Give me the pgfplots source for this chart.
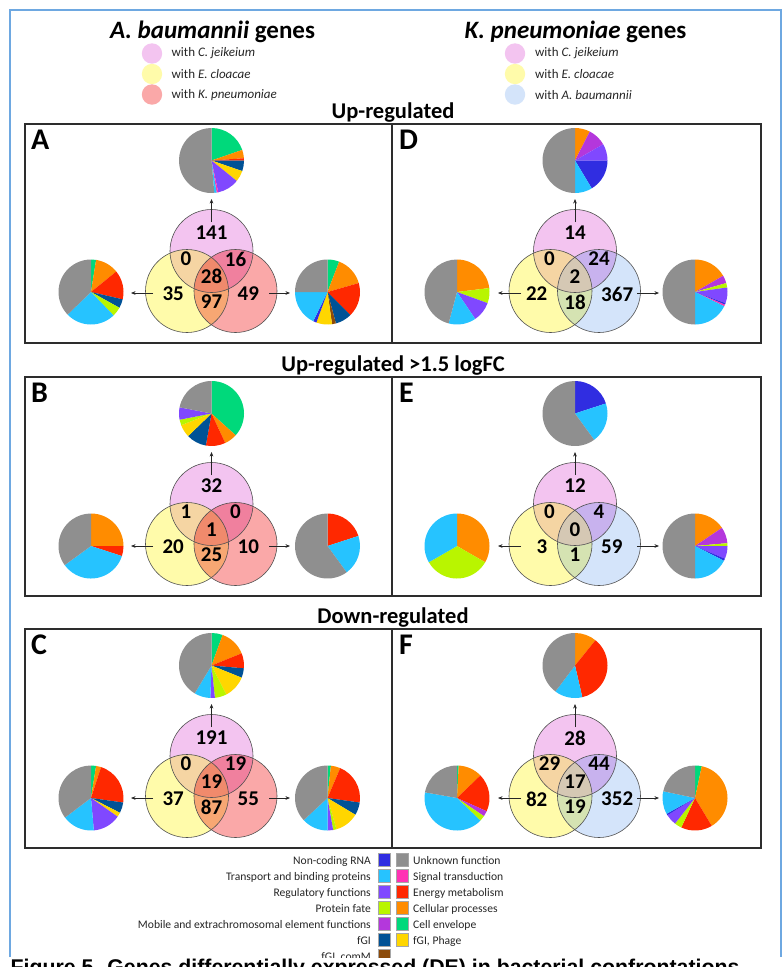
\documentclass[border=0pt]{standalone}
\usepackage{pgfplots}
\pgfplotsset{compat=1.18}
\usetikzlibrary{arrows.meta}
\usepackage{fontspec}
\setmainfont{Carlito}
\newfontfamily\capfont{Liberation Sans}

\definecolor{cgray}{RGB}{143,143,143}
\definecolor{cgreen}{RGB}{0,217,123}
\definecolor{corange}{RGB}{255,140,0}
\definecolor{cred}{RGB}{255,40,0}
\definecolor{cfgi}{RGB}{0,82,150}
\definecolor{cyellow}{RGB}{255,214,0}
\definecolor{cpurple}{RGB}{128,72,255}
\definecolor{cpink}{RGB}{255,50,180}
\definecolor{cltblue}{RGB}{38,195,255}
\definecolor{cncrna}{RGB}{48,45,225}
\definecolor{clime}{RGB}{185,245,0}
\definecolor{cbrown}{RGB}{140,75,10}
\definecolor{cmobile}{RGB}{180,55,220}

\definecolor{vpink}{RGB}{243,196,240}
\definecolor{vyellow}{RGB}{255,251,170}
\definecolor{vsalmon}{RGB}{250,168,168}
\definecolor{vblue}{RGB}{212,228,250}
\definecolor{vPY}{RGB}{245,213,163}
\definecolor{vPS}{RGB}{240,128,158}
\definecolor{vYS}{RGB}{247,167,115}
\definecolor{vPYS}{RGB}{240,138,108}
\definecolor{vPB}{RGB}{200,178,238}
\definecolor{vYB}{RGB}{213,227,178}
\definecolor{vPYB}{RGB}{213,200,180}
\definecolor{vline}{RGB}{80,80,80}
\definecolor{frameblue}{RGB}{110,168,225}
\definecolor{boxline}{RGB}{45,45,45}

\newcommand\fs[1]{\fontsize{#1}{#1}\selectfont}

% ---------- pie: centre x, centre y, list colour:degrees (clockwise from 12 o'clock)
\newcommand\pie[3]{%
  \def\pieacc{0}%
  \pgfplotsforeachungrouped \pieitem in {#3}{\expandafter\pieslice\pieitem\relax{#1}{#2}}%
}
\def\pieslice#1:#2\relax#3#4{%
  \pgfmathsetmacro\pa{90-\pieacc}%
  \pgfmathsetmacro\pb{90-\pieacc-#2}%
  \edef\doslice{\noexpand\fill[#1] (axis cs:#3,#4) -- ++(\pa:32.5pt) arc[start angle=\pa, end angle=\pb, radius=32.5pt] -- cycle;}%
  \doslice
  \pgfmathsetmacro\pieacc{\pieacc+#2}%
}

% ---------- venn: cx, cy (top circle), third colour, P&third, Y&third, triple
\newcommand\venn[6]{%
  \fill[vpink] (axis cs:#1,#2) circle[radius=41.5pt];
  \fill[vyellow] (axis cs:#1-24.5,#2+40) circle[radius=41.5pt];
  \fill[#3] (axis cs:#1+24,#2+40) circle[radius=41.5pt];
  \begin{scope}
    \clip (axis cs:#1-24.5,#2+40) circle[radius=41.5pt];
    \fill[#5] (axis cs:#1+24,#2+40) circle[radius=41.5pt];
  \end{scope}
  \begin{scope}
    \clip (axis cs:#1,#2) circle[radius=41.5pt];
    \fill[vPY] (axis cs:#1-24.5,#2+40) circle[radius=41.5pt];
    \fill[#4] (axis cs:#1+24,#2+40) circle[radius=41.5pt];
    \clip (axis cs:#1-24.5,#2+40) circle[radius=41.5pt];
    \fill[#6] (axis cs:#1+24,#2+40) circle[radius=41.5pt];
  \end{scope}
  \draw[vline,line width=0.6pt] (axis cs:#1,#2) circle[radius=41.5pt];
  \draw[vline,line width=0.6pt] (axis cs:#1-24.5,#2+40) circle[radius=41.5pt];
  \draw[vline,line width=0.6pt] (axis cs:#1+24,#2+40) circle[radius=41.5pt];
}
\newcommand\vnums[9]{%
  \node[num] at (axis cs:#1,#2-18) {#3};
  \node[num] at (axis cs:#1-25.5,#2+8) {#4};
  \node[num] at (axis cs:#1+24,#2+8) {#5};
  \node[num] at (axis cs:#1,#2+25.5) {#6};
  \node[num,anchor=east] at (axis cs:#1-27.5,#2+43) {#7};
  \node[num] at (axis cs:#1,#2+51) {#8};
  \node[num,anchor=west] at (axis cs:#1+26,#2+43) {#9};
}
\newcommand\varrows[6]{%
  \draw[arr] (axis cs:#1,#2-29) -- (axis cs:#1,#2-52);
  \draw[arr] (axis cs:#1#3,#2+42) -- (axis cs:#1#4,#2+42);
  \draw[arr] (axis cs:#1#5,#2+42) -- (axis cs:#1#6,#2+42);
}
\newcommand\legrow[5]{% y, left text, left colour, right colour, right text
  \node[legt,anchor=base east] at (axis cs:371,#1+4) {#2};
  \filldraw[fill=#3,draw=black!35,line width=0.4pt] (axis cs:378,#1-6.5) rectangle (axis cs:390,#1+6.5);
  \ifx\relax#4\relax\else
  \filldraw[fill=#4,draw=black!35,line width=0.4pt] (axis cs:396,#1-6.5) rectangle (axis cs:408,#1+6.5);
  \node[legt,anchor=base west] at (axis cs:413,#1+4) {#5};
  \fi
}

\begin{document}
\begin{tikzpicture}[
  num/.style={font=\fs{21}\bfseries,inner sep=0pt,text=black},
  arr/.style={-{Stealth[length=4.5pt,width=3.6pt]},line width=0.6pt,black!85},
  legt/.style={font=\fs{11.6},inner sep=0pt,text=black!85},
  sp/.style={font=\fs{13},inner sep=0pt,anchor=west,text=black!85}]
\begin{axis}[x=1pt,y=1pt,y dir=reverse,xmin=0,xmax=784,ymin=0,ymax=967,
  hide axis,clip=false,scale only axis]
\fill[white] (axis cs:0,0) rectangle (axis cs:784,967);
% outer frame
\draw[frameblue,line width=1.4pt] (axis cs:10,957) -- (axis cs:10,10) -- (axis cs:781,10) -- (axis cs:781,957);

% species titles
\node[font=\fs{25}\bfseries,anchor=base,inner sep=0pt] at (axis cs:212.5,38.5) {\textit{A. baumannii} genes};
\node[font=\fs{25}\bfseries,anchor=base,inner sep=0pt] at (axis cs:575.5,38.5) {\textit{K. pneumoniae} genes};
\fill[vpink] (axis cs:152,53.5) circle[radius=10.2pt];
\fill[vyellow] (axis cs:152,74) circle[radius=10.2pt];
\fill[vsalmon] (axis cs:152,94.5) circle[radius=10.2pt];
\node[sp] at (axis cs:171.5,53) {with \textit{C. jeikeium}};
\node[sp] at (axis cs:171.5,74) {with \textit{E. cloacae}};
\node[sp] at (axis cs:171.5,95) {with \textit{K. pneumoniae}};
\fill[vpink] (axis cs:515,53.5) circle[radius=10.2pt];
\fill[vyellow] (axis cs:515,74) circle[radius=10.2pt];
\fill[vblue] (axis cs:515,94.5) circle[radius=10.2pt];
\node[sp] at (axis cs:535,53) {with \textit{C. jeikeium}};
\node[sp] at (axis cs:535,74) {with \textit{E. cloacae}};
\node[sp] at (axis cs:535,95) {with \textit{A. baumannii}};

% section headers
\node[font=\fs{22.5}\bfseries,anchor=base,inner sep=0pt] at (axis cs:393,118.5) {Up-regulated};
\node[font=\fs{22.5}\bfseries,anchor=base,inner sep=0pt] at (axis cs:393,371.5) {Up-regulated >1.5 logFC};
\node[font=\fs{22.5}\bfseries,anchor=base,inner sep=0pt] at (axis cs:393,623.5) {Down-regulated};

% panel boxes
\draw[boxline,line width=1.4pt] (axis cs:25,124) rectangle (axis cs:761,343);
\draw[boxline,line width=1.4pt] (axis cs:392,124) -- (axis cs:392,343);
\draw[boxline,line width=1.4pt] (axis cs:25,377) rectangle (axis cs:761,596);
\draw[boxline,line width=1.4pt] (axis cs:392,377) -- (axis cs:392,596);
\draw[boxline,line width=1.4pt] (axis cs:25,629) rectangle (axis cs:761,848);
\draw[boxline,line width=1.4pt] (axis cs:392,629) -- (axis cs:392,848);
\foreach \L/\X/\Y in {A/31/140,B/31/393,C/31/645,D/399/140,E/399/393,F/399/645}{
  \edef\temp{\noexpand\node[font=\noexpand\fs{30}\noexpand\bfseries,anchor=west,inner sep=0pt] at (axis cs:\X,\Y) {\L};}\temp}

% Venn diagrams
\venn{211.5}{251}{vsalmon}{vPS}{vYS}{vPYS}
\venn{211.5}{504}{vsalmon}{vPS}{vYS}{vPYS}
\venn{211.5}{756}{vsalmon}{vPS}{vYS}{vPYS}
\venn{575}{251}{vblue}{vPB}{vYB}{vPYB}
\venn{575}{504}{vblue}{vPB}{vYB}{vPYB}
\venn{575}{756}{vblue}{vPB}{vYB}{vPYB}

\vnums{211.5}{251}{141}{0}{16}{28}{35}{97}{49}
\vnums{211.5}{504}{32}{1}{0}{1}{20}{25}{10}
\vnums{211.5}{756}{191}{0}{19}{19}{37}{87}{55}
\vnums{575}{251}{14}{0}{24}{2}{22}{18}{367}
\vnums{575}{504}{12}{0}{4}{0}{3}{1}{59}
\vnums{575}{756}{28}{29}{44}{17}{82}{19}{352}

\varrows{211.5}{251}{-58.5}{-80.5}{+57.5}{+78.5}
\varrows{211.5}{504}{-58.5}{-80.5}{+57.5}{+78.5}
\varrows{211.5}{756}{-58.5}{-80.5}{+57.5}{+78.5}
\varrows{575}{251}{-54}{-77}{+62}{+84}
\varrows{575}{504}{-54}{-77}{+62}{+84}
\varrows{575}{756}{-54}{-77}{+62}{+84}

% Pies: panel A
\pie{211.5}{160.5}{cgreen:71,corange:15,cred:4,cfgi:19,cyellow:20,cpurple:39,cpink:3,cltblue:4,cgray:185}
\pie{91}{292}{cgreen:9,corange:42,cred:52,cfgi:16,clime:17,cltblue:90,cgray:134}
\pie{327.5}{292}{cgreen:21,corange:53,cred:61,cfgi:30,cbrown:7,cyellow:28,cncrna:6,cltblue:64,cgray:90}
% panel D
\pie{575}{160.5}{corange:27,cmobile:33,cpurple:30,cncrna:59,cltblue:31,cgray:180}
\pie{457}{292}{corange:83,clime:27,cpurple:36,cltblue:49,cgray:165}
\pie{695}{292}{corange:60,cmobile:14,clime:8,cpurple:28,cncrna:3,cpink:3,cltblue:64,cgray:180}
% panel B
\pie{211.5}{413.5}{cgreen:132,corange:23,cred:35,cfgi:36,cyellow:23,clime:10,cpurple:22,cgray:79}
\pie{91}{546}{corange:90,cred:18,cltblue:126,cgray:126}
\pie{327.5}{546}{cred:72,cltblue:72,cgray:216}
% panel E
\pie{575}{413.5}{cncrna:72,cltblue:72,cgray:216}
\pie{457}{546}{corange:120,clime:120,cltblue:120}
\pie{695}{546}{corange:56,cmobile:29,clime:5,cpurple:23,cncrna:4,cltblue:63,cgray:180}
% panel C
\pie{211.5}{665.5}{cgreen:20,corange:48,cred:27,cfgi:17,cyellow:41,clime:21,cpurple:8,cltblue:29,cgray:149}
\pie{91}{798}{cgreen:9,corange:9,cred:80,cfgi:19,cyellow:8,cpurple:50,cltblue:58,cgray:127}
\pie{327.5}{798}{cgreen:6,corange:17,cred:75,cfgi:23,cyellow:43,clime:6,cpurple:10,cltblue:47,cgray:133}
% panel F
\pie{575}{665.5}{corange:39,cred:128,cltblue:50,cgray:143}
\pie{457}{798}{cgreen:3,corange:43,cred:68,cmobile:10,clime:10,cltblue:146,cgray:80}
\pie{695}{798}{cgreen:12,corange:137,cred:56,clime:13,cpurple:20,cncrna:3,cltblue:41,cgray:78}

% legend
\legrow{860}{Non-coding RNA}{cncrna}{cgray}{Unknown function}
\legrow{876}{Transport and binding proteins}{cltblue}{cpink}{Signal transduction}
\legrow{892}{Regulatory functions}{cpurple}{cred}{Energy metabolism}
\legrow{908}{Protein fate}{clime}{corange}{Cellular processes}
\legrow{924}{Mobile and extrachromosomal element functions}{cmobile}{cgreen}{Cell envelope}
\legrow{940}{fGI}{cfgi}{cyellow}{fGI, Phage}
\legrow{956}{fGI, comM}{cbrown}{}{}

% caption (cut off at the bottom)
\fill[white] (axis cs:0,957.5) rectangle (axis cs:784,967);
\node[overlay,anchor=base west,inner sep=0pt,font=\capfont\bfseries\fs{21.3}] at (axis cs:10.5,974) {Figure 5. Genes differentially expressed (DE) in bacterial confrontations};
\end{axis}
\end{tikzpicture}
\end{document}
